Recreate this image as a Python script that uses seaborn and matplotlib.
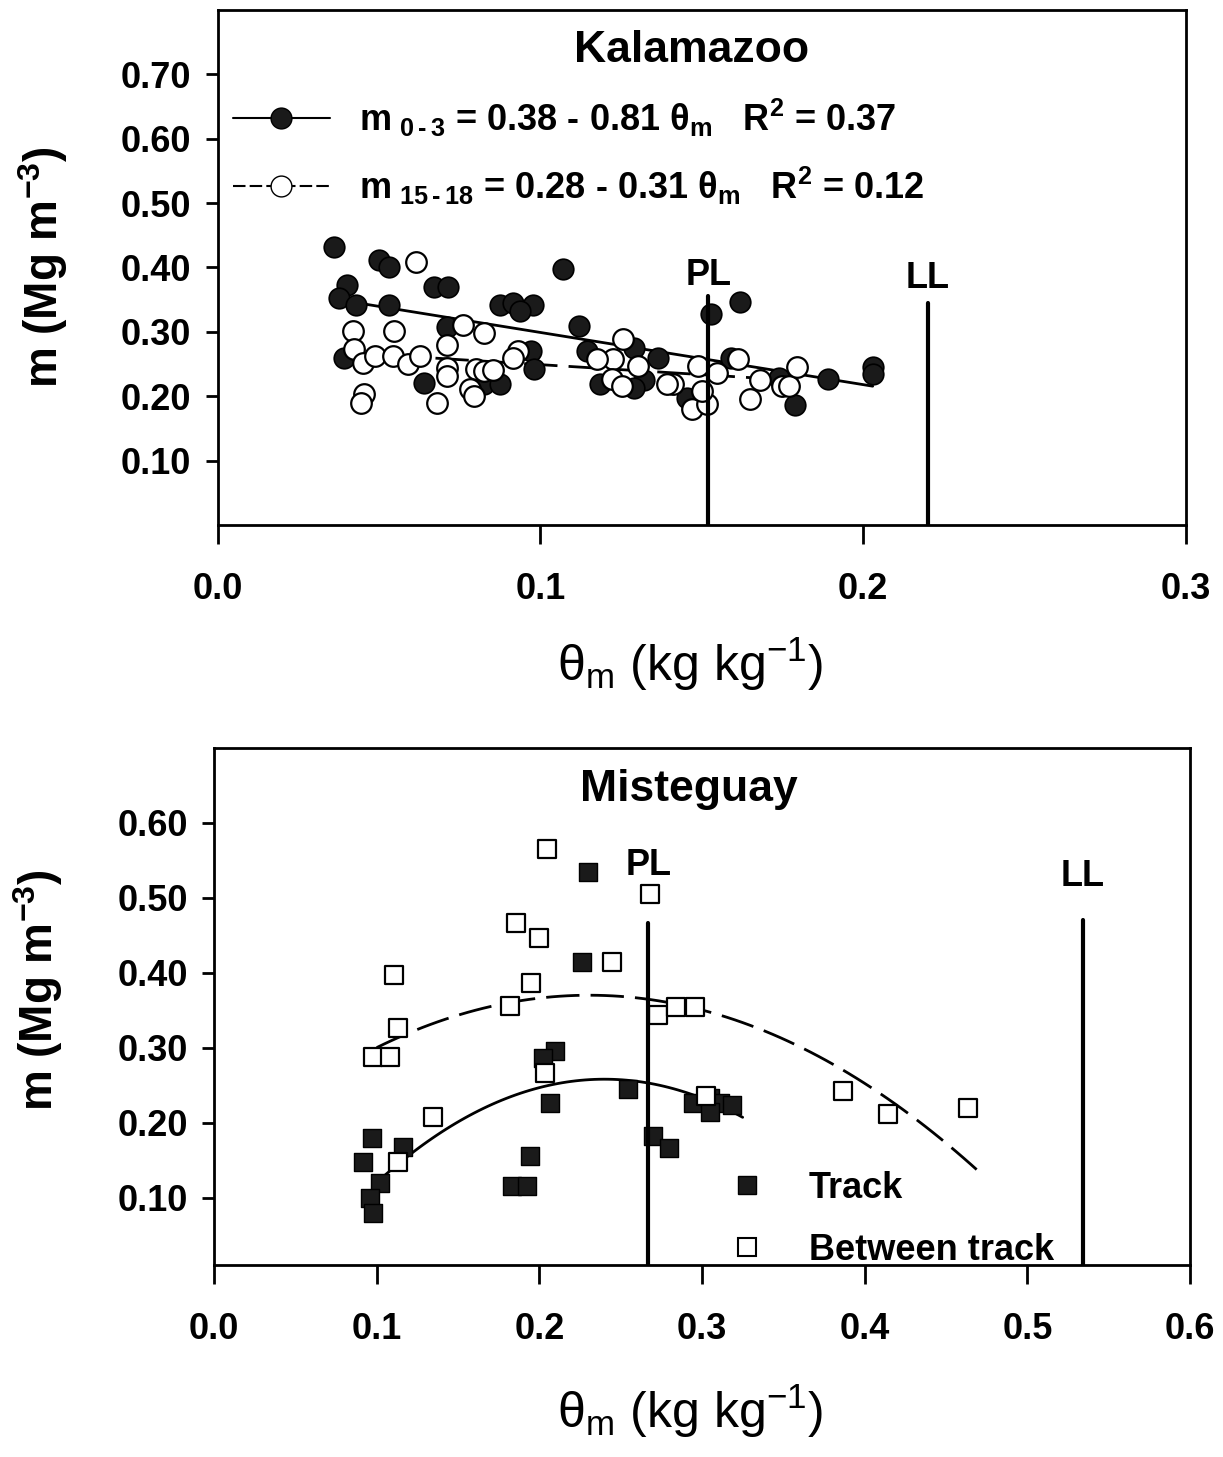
import numpy as np
import pandas as pd
import matplotlib
matplotlib.use("Agg")
import matplotlib.pyplot as plt
import seaborn as sns
from matplotlib.lines import Line2D

# ---------------- Kalamazoo (top) ----------------
kal_x_0_3 = [0.036, 0.050, 0.053, 0.040, 0.0375, 0.043, 0.053, 0.067, 0.0715, 0.0876,
             0.0916, 0.0978, 0.0938, 0.107, 0.112, 0.071, 0.039, 0.1146, 0.097, 0.098,
             0.064, 0.0824, 0.0876, 0.1186, 0.153, 0.162, 0.203, 0.203, 0.189, 0.179,
             0.174, 0.1365, 0.129, 0.132, 0.129, 0.1455, 0.159]
kal_m_0_3 = [0.431, 0.411, 0.400, 0.372, 0.352, 0.341, 0.341, 0.370, 0.370, 0.341,
             0.345, 0.341, 0.333, 0.398, 0.309, 0.308, 0.259, 0.270, 0.270, 0.242,
             0.220, 0.219, 0.219, 0.219, 0.328, 0.347, 0.246, 0.234, 0.226, 0.186,
             0.228, 0.259, 0.275, 0.225, 0.213, 0.197, 0.259]

kal_x_15_18 = [0.0616, 0.0418, 0.0545, 0.0759, 0.0824, 0.0712, 0.0421, 0.0449, 0.0489, 0.0542,
               0.0591, 0.0628, 0.0712, 0.0712, 0.0799, 0.0824, 0.0854, 0.0783, 0.0793, 0.0932,
               0.0916, 0.0452, 0.0443, 0.0681, 0.1257, 0.1226, 0.1176, 0.1303, 0.1223, 0.1254,
               0.149, 0.1548, 0.1613, 0.1412, 0.1393, 0.147, 0.1517, 0.150, 0.168, 0.165,
               0.175, 0.177, 0.1796]
kal_m_15_18 = [0.409, 0.302, 0.302, 0.311, 0.298, 0.280, 0.273, 0.252, 0.263, 0.263,
               0.250, 0.263, 0.244, 0.231, 0.242, 0.239, 0.241, 0.211, 0.200, 0.270,
               0.259, 0.203, 0.189, 0.189, 0.289, 0.258, 0.258, 0.247, 0.227, 0.216,
               0.247, 0.236, 0.258, 0.219, 0.219, 0.180, 0.188, 0.208, 0.225, 0.195,
               0.216, 0.216, 0.245]

# regression: intercept, slope, x-range (from the equations in the chart)
kal_fit_intercept = [0.38, 0.28]
kal_fit_slope = [-0.81, -0.31]
kal_fit_xrange = [(0.037, 0.203), (0.040, 0.180)]

kal_limit_names = ["PL", "LL"]
kal_limit_x = [0.152, 0.220]
kal_limit_top = [0.355, 0.345]
kal_limit_label_y = [0.387, 0.383]

kal_yticks = [0.10, 0.20, 0.30, 0.40, 0.50, 0.60, 0.70]
kal_xticks = [0.0, 0.1, 0.2, 0.3]

# ---------------- Misteguay (bottom) ----------------
mis_track_x = [0.2299, 0.2262, 0.2096, 0.2022, 0.2065, 0.2544, 0.1942, 0.1832, 0.1924, 0.0971,
               0.0916, 0.1162, 0.102, 0.0959, 0.0977, 0.270, 0.2944, 0.3049, 0.311, 0.3184,
               0.3049, 0.280]
mis_track_m = [0.534, 0.415, 0.295, 0.286, 0.226, 0.245, 0.155, 0.116, 0.116, 0.179,
               0.147, 0.167, 0.119, 0.100, 0.079, 0.182, 0.226, 0.233, 0.226, 0.223,
               0.214, 0.166]

mis_between_x = [0.2048, 0.268, 0.1854, 0.1998, 0.2444, 0.1948, 0.1108, 0.1819, 0.1129, 0.0979,
                 0.1082, 0.2729, 0.2034, 0.1346, 0.1131, 0.284, 0.2957, 0.3866, 0.4143, 0.4634,
                 0.3024]
mis_between_m = [0.565, 0.505, 0.466, 0.446, 0.414, 0.386, 0.397, 0.355, 0.326, 0.287,
                 0.287, 0.344, 0.266, 0.207, 0.147, 0.354, 0.354, 0.242, 0.211, 0.220,
                 0.235]

# quadratic fits (c0, c1, c2) and x-range
mis_fit_coefs = [(-0.1475, 3.379, -7.04), (0.152, 1.891, -4.10)]
mis_fit_xrange = [(0.100, 0.325), (0.100, 0.470)]

mis_limit_names = ["PL", "LL"]
mis_limit_x = [0.267, 0.534]
mis_limit_top = [0.466, 0.470]
mis_limit_label_y = [0.543, 0.528]

mis_yticks = [0.10, 0.20, 0.30, 0.40, 0.50, 0.60]
mis_xticks = [0.0, 0.1, 0.2, 0.3, 0.4, 0.5, 0.6]

# ---------------- style ----------------
sns.set_theme(style="ticks")
plt.rcParams['font.family'] = ['Liberation Sans', 'DejaVu Sans']
plt.rcParams['mathtext.default'] = 'regular'
plt.rcParams['axes.linewidth'] = 2.0
plt.rcParams['text.color'] = 'black'
plt.rcParams['axes.labelcolor'] = 'black'

TICK_FS = 26
fig = plt.figure(figsize=(12.23, 14.57), dpi=100)
ax1 = fig.add_axes([0.178, 0.6397, 0.7915, 0.3535])
ax2 = fig.add_axes([0.175, 0.1318, 0.798, 0.3548])


def style_axes(ax, xticks, yticks, xlim, ylim):
    ax.set_xlim(*xlim)
    ax.set_ylim(*ylim)
    ax.set_xticks(xticks)
    ax.set_xticklabels([f"{v:.1f}" for v in xticks])
    ax.set_yticks(yticks)
    ax.set_yticklabels([f"{v:.2f}" for v in yticks])
    for s in ax.spines.values():
        s.set_visible(True)
        s.set_linewidth(2)
        s.set_color('black')
    ax.tick_params(axis='y', direction='out', length=9, width=2, pad=10,
                   labelsize=TICK_FS, colors='black')
    ax.tick_params(axis='x', direction='out', length=14, width=2, pad=20,
                   labelsize=TICK_FS, colors='black')
    for lab in ax.get_xticklabels() + ax.get_yticklabels():
        lab.set_fontweight('bold')
    ax.set_ylabel(r"m (Mg m$^{-3}$)", fontsize=33, fontweight='bold')
    ax.set_xlabel(r"θ$_{m}$ (kg kg$^{-1}$)", fontsize=36)


# ---- top panel ----
style_axes(ax1, kal_xticks, kal_yticks, (0, 0.3), (0, 0.8))
for i, (b0, b1, (xa, xb)) in enumerate(zip(kal_fit_intercept, kal_fit_slope, kal_fit_xrange)):
    xs = np.linspace(xa, xb, 50)
    df = pd.DataFrame({"x": xs, "y": b0 + b1 * xs})
    sns.lineplot(data=df, x="x", y="y", ax=ax1, color='black', lw=2,
                 linestyle='-' if i == 0 else (0, (12, 4)), zorder=2)

sns.scatterplot(x=kal_x_0_3, y=kal_m_0_3, ax=ax1, marker='o', s=220,
                color='#1a1a1a', edgecolor='black', linewidth=1.2, zorder=3, legend=False)
sns.scatterplot(x=kal_x_15_18, y=kal_m_15_18, ax=ax1, marker='o', s=220,
                color='white', edgecolor='black', linewidth=1.6, zorder=4, legend=False)

for name, xv, top, ly in zip(kal_limit_names, kal_limit_x, kal_limit_top, kal_limit_label_y):
    ax1.plot([xv, xv], [0, top], color='black', lw=3, zorder=5)
    ax1.text(xv, ly, name, ha='center', va='center', fontsize=TICK_FS, fontweight='bold')

ax1.text(0.49, 0.922, "Kalamazoo", transform=ax1.transAxes, ha='center', va='center',
         fontsize=32, fontweight='bold')

h1 = Line2D([], [], color='black', lw=1.5, marker='o', markersize=15,
            markerfacecolor='#1a1a1a', markeredgecolor='black')
h2 = Line2D([], [], color='black', lw=1.5, linestyle=(0, (6, 2)), marker='o', markersize=15,
            markerfacecolor='white', markeredgecolor='black')
leg1 = ax1.legend([h1, h2],
                  [r"m$_{\ 0\,‐\,3}$ = 0.38 - 0.81 θ$_{m}$   R$^{2}$ = 0.37",
                   r"m$_{\ 15\,‐\,18}$ = 0.28 - 0.31 θ$_{m}$   R$^{2}$ = 0.12"],
                  loc='upper left', bbox_to_anchor=(0.0155, 0.832), frameon=False,
                  borderpad=0, borderaxespad=0, handlelength=2.7, handletextpad=0.8,
                  labelspacing=0.72, prop={'size': 26, 'weight': 'bold'})
ax1.yaxis.set_label_coords(-0.153, 0.5)
ax1.xaxis.set_label_coords(0.488, -0.215)

# ---- bottom panel ----
style_axes(ax2, mis_xticks, mis_yticks, (0, 0.6), (0.01, 0.70))
for i, ((c0, c1, c2), (xa, xb)) in enumerate(zip(mis_fit_coefs, mis_fit_xrange)):
    xs = np.linspace(xa, xb, 80)
    df = pd.DataFrame({"x": xs, "y": c0 + c1 * xs + c2 * xs ** 2})
    sns.lineplot(data=df, x="x", y="y", ax=ax2, color='black', lw=2,
                 linestyle='-' if i == 0 else (0, (12, 4)), zorder=2)

sns.scatterplot(x=mis_track_x, y=mis_track_m, ax=ax2, marker='s', s=180,
                color='#1a1a1a', edgecolor='black', linewidth=1.0, zorder=3, legend=False)
sns.scatterplot(x=mis_between_x, y=mis_between_m, ax=ax2, marker='s', s=180,
                color='white', edgecolor='black', linewidth=1.6, zorder=4, legend=False)

for name, xv, top, ly in zip(mis_limit_names, mis_limit_x, mis_limit_top, mis_limit_label_y):
    ax2.plot([xv, xv], [0.01, top], color='black', lw=3, zorder=5)
    ax2.text(xv, ly, name, ha='center', va='center', fontsize=TICK_FS, fontweight='bold')

ax2.text(0.487, 0.919, "Misteguay", transform=ax2.transAxes, ha='center', va='center',
         fontsize=32, fontweight='bold')

h3 = Line2D([], [], linestyle='none', marker='s', markersize=13,
            markerfacecolor='#1a1a1a', markeredgecolor='black')
h4 = Line2D([], [], linestyle='none', marker='s', markersize=13,
            markerfacecolor='white', markeredgecolor='black', markeredgewidth=1.5)
ax2.legend([h3, h4], ["Track", "Between track"], loc='upper left',
           bbox_to_anchor=(0.528, 0.182), frameon=False, borderpad=0, borderaxespad=0,
           handlelength=1.0, handletextpad=1.2, labelspacing=0.75,
           prop={'size': 26, 'weight': 'bold'})
ax2.yaxis.set_label_coords(-0.153, 0.532)
ax2.xaxis.set_label_coords(0.488, -0.228)

fig.savefig("out.png", dpi=100)
